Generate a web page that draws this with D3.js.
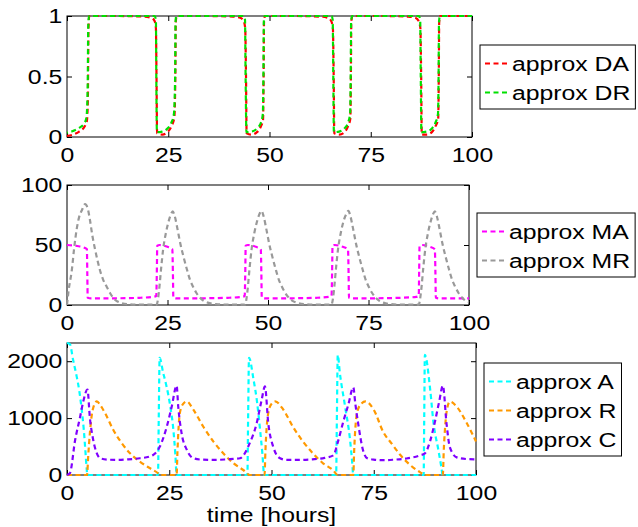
<!DOCTYPE html>
<html lang="en">
  <head>
    <meta charset="UTF-8" />
    <title>approx DA / MA / A</title>
    <style>
      html, body { margin: 0; padding: 0; background: #fff; }
      #chart text { font-family: "Liberation Sans", Arial, Helvetica, sans-serif; fill: #000; }
    </style>
  </head>
  <body>
    <div id="chart"></div>
    <script src="https://cdnjs.cloudflare.com/ajax/libs/d3/7.8.5/d3.min.js"></script>
    <script>
      // ---- data: [time (h), value] ----
      const xTicks = [0, 25, 50, 75, 100];
      const topTicks = [0, 0.5, 1];
      const midTicks = [0, 50, 100];
      const botTicks = [0, 1000, 2000];

      const approxDA = [
        [0,0.01],[1.5,0.02],[3,0.045],[4.2,0.08],[4.9,0.13],[5.15,0.3],[5.3,0.9],[5.5,1],[12,1],[19,0.995],[20.8,0.985],[21.6,0.96],[21.95,0.9],[22.1,0.5],[22.25,0.03],
        [23.5,0.02],[24.8,0.04],[25.8,0.09],[26.5,0.16],[26.75,0.5],[26.85,0.95],[27.1,1],[34,1],[41,0.995],[42.8,0.985],[43.6,0.96],[44.0,0.9],[44.2,0.5],[44.35,0.03],
        [45.6,0.02],[46.9,0.04],[47.9,0.09],[48.4,0.14],[48.55,0.5],[48.65,0.95],[48.9,1],[56,1],[62.6,0.995],[64.4,0.985],[65.2,0.96],[65.65,0.9],[65.85,0.5],[66.0,0.03],
        [67.2,0.02],[68.5,0.04],[69.4,0.09],[69.95,0.15],[70.1,0.5],[70.2,0.95],[70.45,1],[78,1],[84.2,0.995],[86,0.985],[86.8,0.96],[87.25,0.9],[87.45,0.5],[87.6,0.02],
        [88.8,0.02],[90.1,0.04],[91,0.09],[91.65,0.15],[91.8,0.5],[91.9,0.95],[92.15,1],[100,1]
      ];
      const approxDR = [
        [0,0.035],[1.5,0.05],[3,0.075],[4.2,0.11],[4.8,0.16],[5.1,0.4],[5.25,0.92],[5.45,1],[21.6,1],[21.95,0.97],[22.05,0.5],[22.2,0.04],
        [23.5,0.045],[24.8,0.07],[25.8,0.12],[26.4,0.19],[26.7,0.5],[26.8,0.95],[27.0,1],[43.6,1],[43.95,0.97],[44.1,0.5],[44.3,0.04],
        [45.6,0.045],[46.9,0.07],[47.9,0.12],[48.35,0.19],[48.5,0.5],[48.6,0.95],[48.8,1],[65.3,1],[65.6,0.97],[65.75,0.5],[65.9,0.04],
        [67.2,0.045],[68.5,0.07],[69.4,0.12],[69.9,0.19],[70.05,0.5],[70.15,0.95],[70.4,1],[86.9,1],[87.2,0.97],[87.35,0.5],[87.5,0.04],
        [88.8,0.045],[90.1,0.07],[91,0.12],[91.6,0.19],[91.75,0.5],[91.85,0.95],[92.1,1],[100,1]
      ];

      const approxMA = [
        [0,50],[2.5,49.2],[4.5,47.5],[4.95,46.5],[5.05,26],[5.15,6],[6,5.5],[12,5.6],[18,6],[21.5,6.8],[22.2,7.5],[22.35,28],[22.45,49.5],
        [23,50],[25,48.5],[26.2,46.5],[26.35,26],[26.45,6],[27.3,5.5],[34,5.6],[40,6],[43.5,6.8],[44.2,7.5],[44.35,28],[44.45,49.5],
        [45,50],[47,48.5],[48.2,46.5],[48.35,26],[48.45,6],[49.3,5.5],[56,5.6],[62,6],[65.2,6.8],[65.8,7.5],[65.95,28],[66.05,49.5],
        [66.6,50],[68.6,48.5],[69.9,46.5],[70.05,26],[70.15,6],[71,5.5],[77,5.6],[83,6],[86.9,6.8],[87.5,7.5],[87.6,28],[87.7,49.5],
        [88.3,50],[90.3,48.5],[91.5,46.5],[91.65,26],[91.75,6],[92.6,5.5],[100,5.5]
      ];
      const approxMR = [
        [0,0],[0.4,12],[1.2,29],[1.8,48],[2.4,63],[3.0,73],[3.7,79],[4.5,84],[5.1,81],[5.7,71],[6.3,58],[7,46],[7.6,37],[8.2,29],[9,21],[9.9,15],
        [10.7,10],[11.5,6],[12.3,3.5],[13.2,2],[15,0.7],[18,0.3],[22.3,0.3],
        [22.4,1],[22.9,12],[23.4,30],[23.9,46],[24.6,60],[25.3,70],[25.9,76],[26.3,78],[26.8,74],[27.5,63],[28.2,51],[29,40],[29.8,30],[30.6,21],
        [31.4,15],[32.2,10],[33.1,6],[34,3.5],[35,2],[37,0.7],[40,0.3],[44.3,0.3],
        [44.4,1],[44.9,12],[45.4,30],[45.9,46],[46.6,60],[47.3,70],[47.9,76],[48.4,78.5],[48.9,74],[49.6,63],[50.3,51],[51.1,40],[51.9,30],[52.7,21],
        [53.5,15],[54.3,10],[55.2,6],[56.1,3.5],[57.1,2],[59,0.7],[62,0.3],[65.8,0.3],
        [65.9,1],[66.4,12],[66.9,30],[67.4,46],[68.1,60],[68.8,70],[69.5,76],[70,78.5],[70.5,74],[71.2,63],[71.9,51],[72.7,40],[73.5,30],[74.3,21],
        [75.1,15],[75.9,10],[76.8,6],[77.7,3.5],[78.7,2],[80.6,0.7],[83.6,0.3],[87.5,0.3],
        [87.6,1],[88.1,12],[88.6,30],[89.1,46],[89.8,60],[90.5,70],[91.1,76],[91.5,78],[92,74],[92.7,63],[93.4,51],[94.2,40],[95,30],[95.8,21],
        [96.6,15],[97.4,10],[98.3,6],[99.2,3.5],[100,2.5]
      ];

      const approxA = [
        [0,2320],[0.7,2300],[1.5,2020],[2.4,1720],[3.0,1480],[3.6,1150],[4.1,800],[4.5,420],[4.8,120],[4.95,0],
        [22.25,0],[22.45,1100],[22.65,2060],[23.5,1800],[24.2,1600],[25.2,1230],[26,800],[26.5,350],[26.8,0],
        [44.1,0],[44.3,1100],[44.5,2060],[45.6,1680],[46.4,1320],[47.2,800],[47.8,350],[48.2,0],
        [65.8,0],[66.0,1100],[66.2,2110],[66.7,1800],[68,1200],[69.2,620],[69.7,250],[70.0,0],
        [87.2,0],[87.35,1100],[87.5,2110],[88.8,1500],[89.6,920],[90.8,440],[91.5,150],[91.85,0],[100,0]
      ];
      const approxR = [
        [0,0],[4.9,0],[5.2,350],[5.6,740],[6.3,1150],[7.3,1293],[8.2,1220],[9.3,1088],[11.3,794],[13.4,559],[15.4,382],[17.8,235],[20.3,118],[22.3,30],[22.8,0],
        [26.8,0],[27.0,400],[27.6,1094],[28.4,1250],[29.3,1293],[30.9,1147],[33.3,852],[35.8,588],[38.2,382],[40.7,206],[43.1,88],[44.7,0],
        [48.3,0],[48.5,400],[49.2,1088],[50.0,1250],[50.9,1293],[52.9,1147],[55.2,852],[57.7,588],[60.1,382],[62.6,206],[65,88],[66.2,0],
        [70.0,0],[70.2,400],[70.9,1088],[71.9,1250],[73,1293],[75,1147],[77.3,760],[79.5,540],[81.4,360],[83.9,176],[86.3,50],[87.6,0],
        [91.9,0],[92.1,400],[92.4,790],[92.9,1150],[93.6,1290],[95.3,1200],[97.7,917],[100,590]
      ];
      const approxC = [
        [0,0],[0.7,30],[2,620],[3.2,1020],[4,1300],[5,1500],[5.6,1000],[6.4,620],[7.3,380],[8.1,294],[10,270],[12.2,265],[15,275],[17.8,294],[20,320],[21.1,353],
        [22.7,500],[24.4,850],[25.6,1200],[26.8,1570],[27.2,1200],[28,740],[29.3,441],[30.9,294],[33,270],[36,265],[39,275],[42.3,294],[43.2,350],
        [44.3,500],[46.4,917],[47.6,1323],[48.4,1557],[49.2,917],[50.4,500],[52.1,294],[53.7,265],[57,265],[60,275],[63,300],[65.1,345],
        [66.3,600],[67.6,950],[68.8,1240],[70,1540],[70.5,1250],[71.2,900],[72.4,430],[73.3,300],[75,270],[77.3,260],[80,270],[83,290],[86.3,345],
        [87.5,380],[88.8,600],[90,950],[91,1290],[91.9,1570],[92.8,900],[93.6,490],[95.3,310],[97.7,280],[100,275]
      ];

      // ---- layout ----
      const W = 638, H = 527;
      const sx = 1.18; // glyphs in the picture are a bit wider than Liberation Sans
      const fontSize = 21;

      const panels = [
        { left: 67, right: 472, top: 16, bottom: 137, yDomain: [0, 1], yTicks: topTicks,
          legend: { x: 480, y: 45 },
          series: [
            { name: "approx DA", data: approxDA, color: "#ff0000", offset: 0 },
            { name: "approx DR", data: approxDR, color: "#00e000", offset: 4 },
          ] },
        { left: 67, right: 469, top: 185, bottom: 305, yDomain: [0, 100], yTicks: midTicks,
          legend: { x: 477, y: 213 },
          series: [
            { name: "approx MA", data: approxMA, color: "#ff00ff", offset: 0 },
            { name: "approx MR", data: approxMR, color: "#999999", offset: 0 },
          ] },
        { left: 67, right: 476, top: 343, bottom: 475, yDomain: [0, 2320], yTicks: botTicks,
          legend: { x: 484, y: 363 },
          series: [
            { name: "approx A", data: approxA, color: "#00ffff", offset: 0 },
            { name: "approx R", data: approxR, color: "#ff9900", offset: 0 },
            { name: "approx C", data: approxC, color: "#8000ff", offset: 0 },
          ] },
      ];

      const svg = d3.select("#chart").append("svg")
        .attr("width", W)
        .attr("height", H);

      svg.append("rect").attr("width", W).attr("height", H).attr("fill", "#fff");

      panels.forEach(drawPanel);

      // x axis title
      svg.append("text")
        .attr("transform", `translate(${(67 + 476) / 2},522) scale(${sx},1)`)
        .attr("text-anchor", "middle")
        .style("font-size", fontSize + "px")
        .text("time [hours]");

      function drawPanel(p) {
        const x = d3.scaleLinear().domain([0, 100]).range([p.left, p.right]);
        const y = d3.scaleLinear().domain(p.yDomain).range([p.bottom, p.top]);
        const g = svg.append("g");

        g.append("g")
          .attr("transform", `translate(0,${p.bottom})`)
          .call(d3.axisBottom(x).tickValues(xTicks).tickSizeInner(-5).tickSizeOuter(0).tickPadding(10).tickFormat((d) => d));
        g.append("g")
          .attr("transform", `translate(0,${p.top})`)
          .call(d3.axisTop(x).tickValues(xTicks).tickSizeInner(-5).tickSizeOuter(0).tickFormat(""));
        g.append("g")
          .attr("transform", `translate(${p.left},0)`)
          .call(d3.axisLeft(y).tickValues(p.yTicks).tickSizeInner(-5).tickSizeOuter(0).tickPadding(4).tickFormat((d) => d));
        g.append("g")
          .attr("transform", `translate(${p.right},0)`)
          .call(d3.axisRight(y).tickValues(p.yTicks).tickSizeInner(-5).tickSizeOuter(0).tickFormat(""));

        g.selectAll(".domain").remove();
        g.selectAll(".tick line").attr("stroke", "#000");
        g.selectAll(".tick text")
          .attr("fill", "#000")
          .style("font-size", fontSize + "px")
          .attr("transform", `scale(${sx},1)`);

        g.append("rect")
          .attr("x", p.left)
          .attr("y", p.top)
          .attr("width", p.right - p.left)
          .attr("height", p.bottom - p.top)
          .attr("fill", "none")
          .attr("stroke", "#000")
          .attr("stroke-width", 1);

        const line = d3.line()
          .x((d) => x(d[0]))
          .y((d) => y(d[1]))
          .curve(d3.curveMonotoneX);

        p.series.forEach((s) => {
          g.append("path")
            .datum(s.data)
            .attr("fill", "none")
            .attr("stroke", s.color)
            .attr("stroke-width", 2.2)
            .attr("stroke-dasharray", "5,3.5")
            .attr("stroke-dashoffset", s.offset)
            .attr("d", line);
        });

        // legend
        const rowH = 29;
        const lg = g.append("g");
        const box = lg.append("rect")
          .attr("x", p.legend.x)
          .attr("y", p.legend.y)
          .attr("height", 6 + p.series.length * rowH)
          .attr("fill", "#fff")
          .attr("stroke", "#000")
          .attr("stroke-width", 1);

        let maxW = 0;
        p.series.forEach((s, i) => {
          const base = p.legend.y + 26 + i * rowH;
          lg.append("line")
            .attr("x1", p.legend.x + 5)
            .attr("x2", p.legend.x + 30)
            .attr("y1", base - 7.5)
            .attr("y2", base - 7.5)
            .attr("stroke", s.color)
            .attr("stroke-width", 2.2)
            .attr("stroke-dasharray", "5,3.5");
          const t = lg.append("text")
            .attr("transform", `translate(${p.legend.x + 32},${base}) scale(${sx},1)`)
            .style("font-size", fontSize + "px")
            .text(s.name);
          maxW = Math.max(maxW, t.node().getComputedTextLength() * sx);
        });
        box.attr("width", 32 + maxW + 5);
      }
    </script>
  </body>
</html>
